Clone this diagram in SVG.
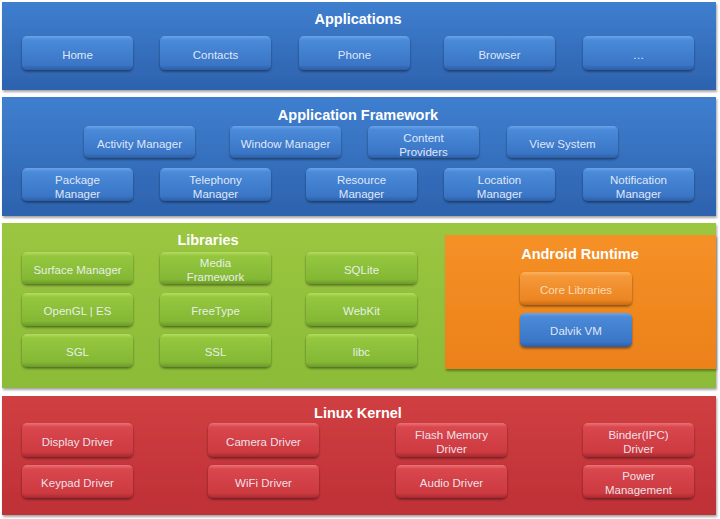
<svg xmlns="http://www.w3.org/2000/svg" width="720" height="519" viewBox="0 0 720 519">
<defs>
<linearGradient id="gBluePanel" x1="0" y1="0" x2="0" y2="1"><stop offset="0" stop-color="#3f7fcf"/><stop offset="1" stop-color="#2d62ae"/></linearGradient>
<linearGradient id="gBlueBtn" x1="0" y1="0" x2="0" y2="1"><stop offset="0" stop-color="#6aa3e8"/><stop offset="0.12" stop-color="#4a8ad9"/><stop offset="0.85" stop-color="#3a75c6"/><stop offset="1" stop-color="#2c5ea6"/></linearGradient>
<linearGradient id="gGreenPanel" x1="0" y1="0" x2="0" y2="1"><stop offset="0" stop-color="#9bc640"/><stop offset="1" stop-color="#8bbb38"/></linearGradient>
<linearGradient id="gGreenBtn" x1="0" y1="0" x2="0" y2="1"><stop offset="0" stop-color="#b5dc63"/><stop offset="0.12" stop-color="#95c73f"/><stop offset="0.85" stop-color="#84b834"/><stop offset="1" stop-color="#6a9a28"/></linearGradient>
<linearGradient id="gOrangePanel" x1="0" y1="0" x2="0" y2="1"><stop offset="0" stop-color="#f59027"/><stop offset="1" stop-color="#ec8119"/></linearGradient>
<linearGradient id="gOrangeBtn" x1="0" y1="0" x2="0" y2="1"><stop offset="0" stop-color="#fbb460"/><stop offset="0.12" stop-color="#f5993a"/><stop offset="0.85" stop-color="#ec8523"/><stop offset="1" stop-color="#c86c14"/></linearGradient>
<linearGradient id="gRedPanel" x1="0" y1="0" x2="0" y2="1"><stop offset="0" stop-color="#d03f42"/><stop offset="1" stop-color="#be3036"/></linearGradient>
<linearGradient id="gRedBtn" x1="0" y1="0" x2="0" y2="1"><stop offset="0" stop-color="#ec7276"/><stop offset="0.12" stop-color="#d9474d"/><stop offset="0.85" stop-color="#cd3a40"/><stop offset="1" stop-color="#a82a30"/></linearGradient>
<filter id="sh" x="-10%" y="-10%" width="120%" height="140%"><feDropShadow dx="0" dy="1.5" stdDeviation="1.2" flood-color="#000" flood-opacity="0.45"/></filter>
<filter id="psh" x="-2%" y="-5%" width="104%" height="115%"><feDropShadow dx="1" dy="2" stdDeviation="1.2" flood-color="#000" flood-opacity="0.35"/></filter>
</defs>
<style>
text{font-family:"Liberation Sans",Arial,sans-serif;fill:#f2f6ff;text-anchor:middle}
.t{font-size:14.5px;font-weight:bold;fill:#fff}
.b{font-size:11.5px;fill-opacity:0.9}
.btn{rx:5px;ry:5px;filter:url(#sh)}
.bb{fill:url(#gBlueBtn)}
.gb{fill:url(#gGreenBtn)}
.ob{fill:url(#gOrangeBtn)}
.rb{fill:url(#gRedBtn)}
</style>
<rect width="720" height="519" fill="#ffffff"/>

<g id="applications">
<rect x="2" y="2" width="714" height="88" fill="url(#gBluePanel)" filter="url(#psh)"/>
<text class="t" x="358" y="24">Applications</text>
<g id="home"><rect class="btn bb" x="22" y="36" width="111" height="34"/><text class="b" x="77.5" y="58.5">Home</text></g>
<g id="contacts"><rect class="btn bb" x="160" y="36" width="111" height="34"/><text class="b" x="215.5" y="58.5">Contacts</text></g>
<g id="phone"><rect class="btn bb" x="299" y="36" width="111" height="34"/><text class="b" x="354.5" y="58.5">Phone</text></g>
<g id="browser"><rect class="btn bb" x="444" y="36" width="111" height="34"/><text class="b" x="499.5" y="58.5">Browser</text></g>
<g id="more"><rect class="btn bb" x="583" y="36" width="111" height="34"/><text class="b" x="638.5" y="58.5">…</text></g>
</g>

<g id="framework">
<rect x="2" y="97" width="714" height="119" fill="url(#gBluePanel)" filter="url(#psh)"/>
<text class="t" x="358" y="120">Application Framework</text>
<g id="activity"><rect class="btn bb" x="84" y="126" width="111" height="32"/><text class="b" x="139.5" y="147.5">Activity Manager</text></g>
<g id="window"><rect class="btn bb" x="230" y="126" width="111" height="32"/><text class="b" x="285.5" y="147.5">Window Manager</text></g>
<g id="content"><rect class="btn bb" x="368" y="126" width="111" height="32"/><text class="b" x="423.5" y="141.5">Content</text><text class="b" x="423.5" y="155.5">Providers</text></g>
<g id="view"><rect class="btn bb" x="507" y="126" width="111" height="32"/><text class="b" x="562.5" y="147.5">View System</text></g>
<g id="package"><rect class="btn bb" x="22" y="168" width="111" height="33"/><text class="b" x="77.5" y="183.5">Package</text><text class="b" x="77.5" y="197.5">Manager</text></g>
<g id="telephony"><rect class="btn bb" x="160" y="168" width="111" height="33"/><text class="b" x="215.5" y="183.5">Telephony</text><text class="b" x="215.5" y="197.5">Manager</text></g>
<g id="resource"><rect class="btn bb" x="306" y="168" width="111" height="33"/><text class="b" x="361.5" y="183.5">Resource</text><text class="b" x="361.5" y="197.5">Manager</text></g>
<g id="location"><rect class="btn bb" x="444" y="168" width="111" height="33"/><text class="b" x="499.5" y="183.5">Location</text><text class="b" x="499.5" y="197.5">Manager</text></g>
<g id="notification"><rect class="btn bb" x="583" y="168" width="111" height="33"/><text class="b" x="638.5" y="183.5">Notification</text><text class="b" x="638.5" y="197.5">Manager</text></g>
</g>

<g id="libraries">
<rect x="2" y="223" width="714" height="165" fill="url(#gGreenPanel)" filter="url(#psh)"/>
<text class="t" x="208" y="245">Libraries</text>
<g id="surface"><rect class="btn gb" x="22" y="252" width="111" height="32"/><text class="b" x="77.5" y="273.5">Surface Manager</text></g>
<g id="media"><rect class="btn gb" x="160" y="252" width="111" height="32"/><text class="b" x="215.5" y="266.5">Media</text><text class="b" x="215.5" y="280.5">Framework</text></g>
<g id="sqlite"><rect class="btn gb" x="306" y="252" width="111" height="32"/><text class="b" x="361.5" y="273.5">SQLite</text></g>
<g id="opengl"><rect class="btn gb" x="22" y="293" width="111" height="33"/><text class="b" x="77.5" y="315">OpenGL | ES</text></g>
<g id="freetype"><rect class="btn gb" x="160" y="293" width="111" height="33"/><text class="b" x="215.5" y="315">FreeType</text></g>
<g id="webkit"><rect class="btn gb" x="306" y="293" width="111" height="33"/><text class="b" x="361.5" y="315">WebKit</text></g>
<g id="sgl"><rect class="btn gb" x="22" y="334" width="111" height="33"/><text class="b" x="77.5" y="356">SGL</text></g>
<g id="ssl"><rect class="btn gb" x="160" y="334" width="111" height="33"/><text class="b" x="215.5" y="356">SSL</text></g>
<g id="libc"><rect class="btn gb" x="306" y="334" width="111" height="33"/><text class="b" x="361.5" y="356">libc</text></g>
</g>

<g id="runtime">
<rect x="445" y="235" width="271" height="134" fill="url(#gOrangePanel)" filter="url(#psh)"/>
<text class="t" x="580" y="259">Android Runtime</text>
<g id="corelib"><rect class="btn ob" x="520" y="272" width="112" height="33"/><text class="b" x="576" y="294" style="fill:#fde3c4">Core Libraries</text></g>
<g id="dalvik"><rect class="btn bb" x="520" y="313" width="112" height="34"/><text class="b" x="576" y="335">Dalvik VM</text></g>
</g>

<g id="kernel">
<rect x="2" y="396" width="714" height="119" fill="url(#gRedPanel)" filter="url(#psh)"/>
<text class="t" x="358" y="418">Linux Kernel</text>
<g id="display"><rect class="btn rb" x="22" y="423" width="111" height="34"/><text class="b" x="77.5" y="445.5">Display Driver</text></g>
<g id="camera"><rect class="btn rb" x="208" y="423" width="111" height="34"/><text class="b" x="263.5" y="445.5">Camera Driver</text></g>
<g id="flash"><rect class="btn rb" x="396" y="423" width="111" height="34"/><text class="b" x="451.5" y="438.5">Flash Memory</text><text class="b" x="451.5" y="452.5">Driver</text></g>
<g id="binder"><rect class="btn rb" x="583" y="423" width="111" height="34"/><text class="b" x="638.5" y="438.5">Binder(IPC)</text><text class="b" x="638.5" y="452.5">Driver</text></g>
<g id="keypad"><rect class="btn rb" x="22" y="465" width="111" height="33"/><text class="b" x="77.5" y="487">Keypad Driver</text></g>
<g id="wifi"><rect class="btn rb" x="208" y="465" width="111" height="33"/><text class="b" x="263.5" y="487">WiFi Driver</text></g>
<g id="audio"><rect class="btn rb" x="396" y="465" width="111" height="33"/><text class="b" x="451.5" y="487">Audio Driver</text></g>
<g id="power"><rect class="btn rb" x="583" y="465" width="111" height="33"/><text class="b" x="638.5" y="480">Power</text><text class="b" x="638.5" y="494">Management</text></g>
</g>
<g id="connectors"/>
</svg>
